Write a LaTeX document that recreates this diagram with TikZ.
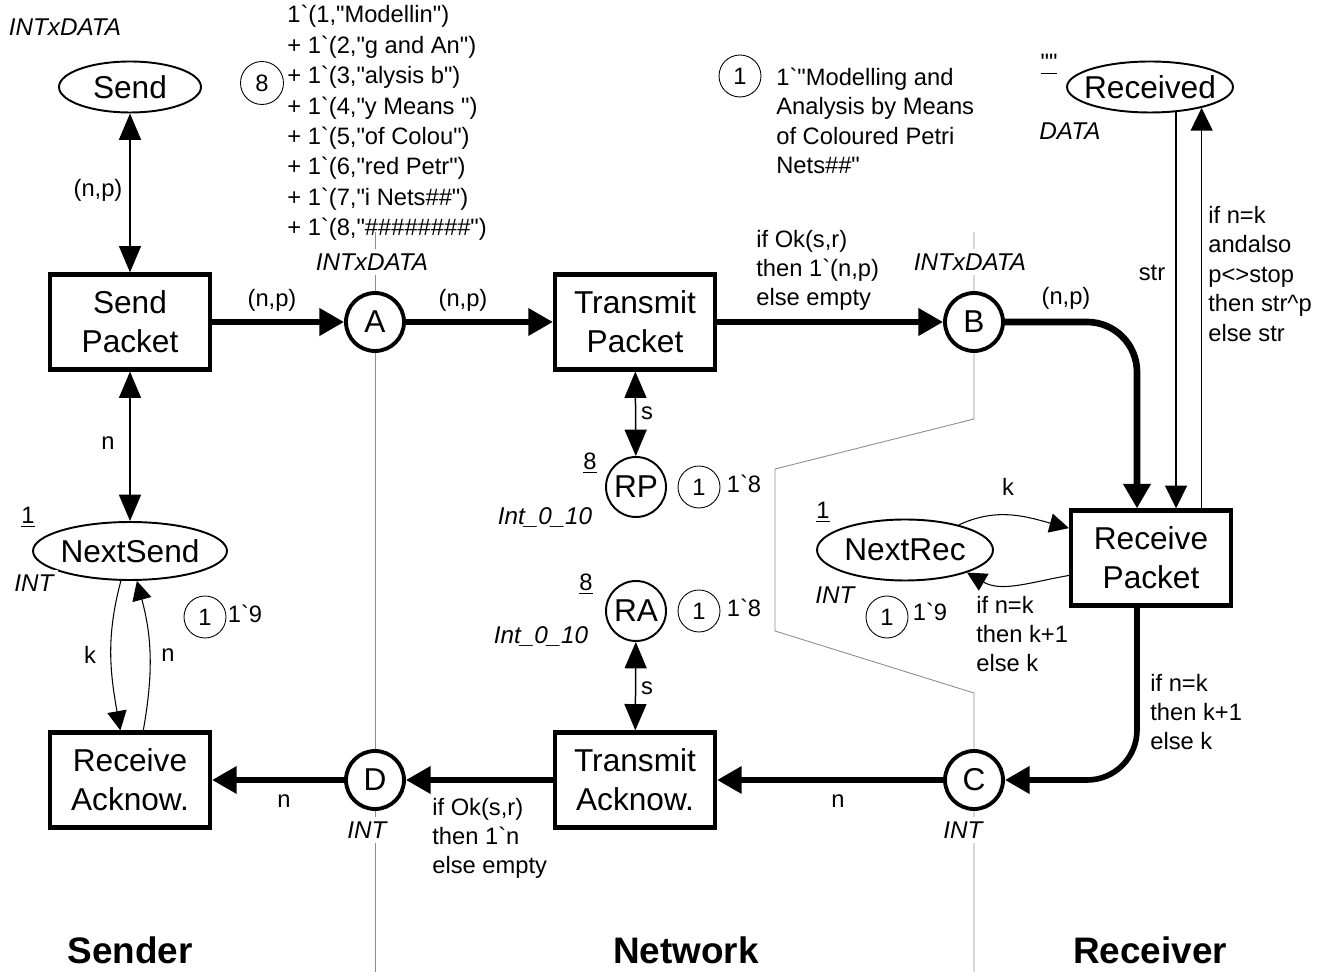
\documentclass[tikz,border=0pt]{standalone}
\usepackage{fontspec}
\setmainfont{Liberation Sans}[Ligatures=TeXOff]
\usepackage{xcolor}
\usetikzlibrary{arrows.meta, shapes.geometric, calc}
\definecolor{linegray}{HTML}{8C8C8C}

\tikzset{
  trans/.style={draw, line width=2.4pt, fill=white, minimum width=3.2cm, minimum height=1.9cm,
    align=center, font=\fontsize{18}{22}\selectfont},
  place/.style={draw, circle, line width=2.2pt, fill=white, minimum size=1.16cm, inner sep=0pt,
    font=\fontsize{18}{20}\selectfont},
  rplace/.style={place, line width=1.1pt, minimum size=1.2cm},
  eplace/.style={draw, ellipse, line width=1.1pt, fill=white, inner xsep=-0.2cm, inner ysep=0pt,
    font=\fontsize{18}{20}\selectfont},
  token/.style={draw, circle, line width=0.5pt, minimum size=0.84cm, inner sep=0pt,
    font=\fontsize{13.5}{15}\selectfont},
  lab/.style={inner sep=0pt, align=left, font=\fontsize{13.5}{16.5}\selectfont},
  typ/.style={inner sep=2.5pt, fill=white, font=\fontsize{13.8}{16}\selectfont\itshape},
  group/.style={inner sep=0pt, font=\fontsize{21}{24}\selectfont\bfseries},
  bigarc/.style={line width=3.2pt, -{Triangle[length=14pt,width=15pt]}},
  arc/.style={line width=0.85pt, -{Triangle[length=13pt,width=12.5pt]}},
  dblarc/.style={line width=0.85pt, {Triangle[length=15pt,width=12.5pt]}-{Triangle[length=15pt,width=12.5pt]}},
  curvarc/.style={line width=0.6pt, -{Triangle[length=11pt,width=11pt]}},
  divider/.style={linegray, line width=0.5pt}
}

\begin{document}
\begin{tikzpicture}[x=0.02cm, y=0.02cm]
\useasboundingbox (0,0) rectangle (1326,-972);

\draw[divider] (375,-232) -- (375,-972);
\draw[divider] (974,-232) -- (974,-419) -- (775,-469) -- (775,-631) -- (974,-693) -- (974,-972);

\node[eplace, minimum width=2.84cm, minimum height=1.02cm] (send) at (130,-87) {Send};
\node[eplace, minimum width=3.32cm, minimum height=1.02cm] (received) at (1150,-87) {Received};
\node[eplace, minimum width=3.88cm, minimum height=1.16cm] (nextsend) at (130,-551) {NextSend};
\node[eplace, minimum width=3.52cm, minimum height=1.22cm] (nextrec) at (905,-550) {NextRec};
\node[place] (A) at (375,-322) {A};
\node[place] (B) at (974,-322) {B};
\node[place] (C) at (974,-780) {C};
\node[place] (D) at (375,-780) {D};
\node[rplace] (RP) at (636,-487) {RP};
\node[rplace] (RA) at (636,-611) {RA};

\node[trans] (sendpk) at (130,-322) {Send\\Packet};
\node[trans] (transpk) at (635,-322) {Transmit\\Packet};
\node[trans] (recpk) at (1151,-558) {Receive\\Packet};
\node[trans] (recack) at (130,-780) {Receive\\Acknow.};
\node[trans] (transack) at (635,-780) {Transmit\\Acknow.};

\node[typ] (tsend) at (65,-27) {INTxDATA};
\node[typ] (ta) at (372,-262) {INTxDATA};
\node[typ] (tb) at (970,-262) {INTxDATA};
\node[typ] (trec) at (1070,-131) {DATA};
\node[typ] (tns) at (34,-583) {INT};
\node[typ] (trp) at (545,-518) {Int\_0\_10};
\node[typ] (tra) at (541,-637) {Int\_0\_10};
\node[typ] (tnr) at (835,-595) {INT};
\node[typ] (td) at (367,-830) {INT};
\node[typ] (tc) at (963,-830) {INT};

\node[lab] (mns) at (28,-517) {\underline{1}};
\node[lab] (mrp) at (590,-463) {\underline{8}};
\node[lab] (mra) at (586,-584) {\underline{8}};
\node[lab] (mnr) at (823,-512) {\underline{1}};
\node[lab] (mrec) at (1049,-64) {\underline{""}};

\node[token, minimum size=0.86cm] (k8) at (262,-83) {8};
\node[lab, anchor=west, font=\fontsize{13.5}{17.3}\selectfont] (kmsgs) at (287,-123)
  {1\textasciigrave(1,"Modellin")\\
   + 1\textasciigrave(2,"g and An")\\
   + 1\textasciigrave(3,"alysis b")\\
   + 1\textasciigrave(4,"y Means ")\\
   + 1\textasciigrave(5,"of Colou")\\
   + 1\textasciigrave(6,"red Petr")\\
   + 1\textasciigrave(7,"i Nets\#\#")\\
   + 1\textasciigrave(8,"\#\#\#\#\#\#\#\#")};
\node[token] (k1rec) at (740,-76) {1};
\node[lab, anchor=west, font=\fontsize{13.5}{16.8}\selectfont] (krec) at (776,-121)
  {1\textasciigrave"Modelling and\\Analysis by Means\\of Coloured Petri\\Nets\#\#"};
\node[token] (k1ns) at (205,-617) {1};
\node[lab] (kns) at (245,-614) {1\textasciigrave 9};
\node[token] (k1rp) at (699,-487) {1};
\node[lab] (krp) at (744,-484) {1\textasciigrave 8};
\node[token] (k1ra) at (699,-611) {1};
\node[lab] (kra) at (744,-608) {1\textasciigrave 8};
\node[token] (k1nr) at (887,-617) {1};
\node[lab] (knr) at (930,-612) {1\textasciigrave 9};

\draw[dblarc] (send) -- (sendpk);
\draw[dblarc] (sendpk) -- (nextsend);
\draw[dblarc] (transpk) -- (RP);
\draw[dblarc] (RA) -- (transack);
\draw[bigarc] (sendpk) -- (A);
\draw[bigarc] (A) -- (transpk);
\draw[bigarc] (transpk) -- (B);
\coordinate (bin) at ($(recpk.north)+(-14,0)$);
\draw[bigarc, line width=3.8pt, rounded corners=1cm] (B) -| (bin);
\draw[bigarc, rounded corners=1cm] (recpk.south -| bin) |- (C);
\draw[bigarc] (C) -- (transack);
\draw[bigarc] (transack) -- (D);
\draw[bigarc] (D) -- (recack);
\draw[arc] (received.-44) -- (received.-44 |- recpk.north);
\draw[arc] (received.-22 |- recpk.north) -- (received.-22);
\draw[curvarc] (nextsend.-107) to[out=-105, in=100] (recack.101);
\draw[curvarc] (recack.75) to[out=80, in=-75] (nextsend.-77);
\draw[curvarc] (nextrec.25) to[out=25, in=165] (recpk.160);
\draw[curvarc] (recpk.192) to[out=190, in=-30] (nextrec.-20);

\node[lab] (l1) at (98,-190) {(n,p)};
\node[lab] (l2) at (272,-300) {(n,p)};
\node[lab] (l3) at (463,-300) {(n,p)};
\node[lab, anchor=west] (l4) at (756,-270) {if Ok(s,r)\\then 1\textasciigrave(n,p)\\else empty};
\node[lab] (l5) at (1066,-298) {(n,p)};
\node[lab] (l6) at (1152,-273) {str};
\node[lab, anchor=west, font=\fontsize{13.5}{16.8}\selectfont] (l7) at (1208,-274)
  {if n=k\\andalso\\p<>stop\\then str\textasciicircum p\\else str};
\node[lab] (l8) at (108,-443) {n};
\node[lab] (l9) at (90,-655) {k};
\node[lab] (l10) at (168,-655) {n};
\node[lab] (l11) at (647,-413) {s};
\node[lab] (l12) at (647,-688) {s};
\node[lab] (l13) at (1008,-487) {k};
\node[lab, anchor=west] (l14) at (976,-634) {if n=k\\then k+1\\else k};
\node[lab, anchor=west] (l15) at (1150,-712) {if n=k\\then k+1\\else k};
\node[lab] (l16) at (838,-801) {n};
\node[lab, anchor=west] (l17) at (432,-838) {if Ok(s,r)\\then 1\textasciigrave n\\else empty};
\node[lab] (l18) at (284,-801) {n};

\node[group] (gs) at (130,-950) {Sender};
\node[group] (gn) at (686,-950) {Network};
\node[group] (gr) at (1150,-950) {Receiver};
\end{tikzpicture}
\end{document}
